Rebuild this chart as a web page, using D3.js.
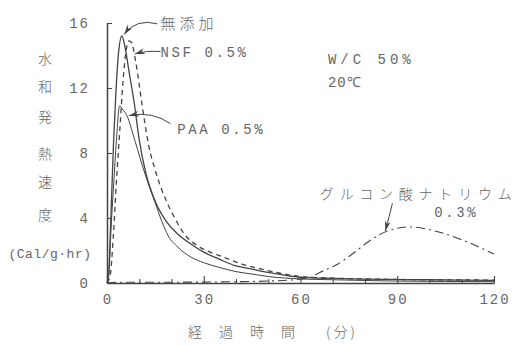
<!DOCTYPE html>
<html>
<head>
<meta charset="utf-8">
<script src="https://cdn.jsdelivr.net/npm/d3@7"></script>
<style>
  body { margin: 0; background: #fff; }
  svg { display: block; }
  text { fill: #666; }
  .num { font-family: "Liberation Mono", "DejaVu Sans Mono", monospace; font-size: 14px; letter-spacing: 2px; }
  .jp { font-family: "Noto Sans CJK JP", sans-serif; font-weight: 300; }
</style>
</head>
<body>
<svg id="chart" width="523" height="345"></svg>
<script>
// time (min) / heat rate (cal/g·hr)
const mutenka = [[0,0],[0.5,0.5],[1.2,4],[2,8.5],[2.7,11.5],[3.5,14],[4.6,15.2],[5.5,14.6],[7,12.8],[8.5,11],[10,8.8],[12,6.8],[15,5.0],[18,3.9],[22,3.0],[26,2.4],[30,1.9],[35,1.45],[40,1.05],[45,0.85],[50,0.65],[55,0.48],[60,0.35],[70,0.28],[80,0.24],[100,0.2],[120,0.16]]
const nsf = [[0,0],[1,0.5],[2,3],[3,6.5],[4,9.5],[5,12.5],[6,14.4],[6.8,14.9],[7.6,14.8],[9,13.5],[11,10.8],[13,8.4],[15,6.9],[18.5,5.0],[21,4.0],[24,3.0],[28,2.3],[32,1.9],[36,1.6],[42,1.15],[48,0.85],[55,0.55],[60,0.4],[70,0.3],[90,0.22],[120,0.18]]
const paa = [[0,0],[0.5,0.4],[1.3,3.5],[2.2,6.5],[3,9],[3.9,10.9],[4.8,10.7],[6.4,10.2],[8,9.2],[9.5,8.2],[11,7.2],[13,6.0],[15,4.9],[17,3.8],[19,2.9],[22,2.2],[26,1.6],[30,1.25],[35,0.95],[40,0.7],[45,0.55],[50,0.4],[60,0.25],[70,0.2],[90,0.12],[120,0.08]]
const gluconate = [[0,0],[5,0.05],[20,0.05],[40,0.08],[50,0.12],[58,0.2],[63,0.35],[66,0.65],[71.5,1.15],[76.5,1.85],[81.8,2.65],[87,3.2],[94,3.45],[102.6,3.15],[112,2.5],[120,1.78]]

const xTicks = [0, 30, 60, 90, 120]
const xMinor = [10, 20, 40, 50, 70, 80, 100, 110]
const yTicks = [0, 4, 8, 12, 16]
const yTitle = ["水", "和", "発", "熱", "速", "度"]
const xTitle = ["経", "過", "時", "間"]

const svg = d3.select("#chart")
const ink = "#444"

const x = d3.scaleLinear().domain([0, 120]).range([107, 494])
const y = d3.scaleLinear().domain([0, 16]).range([283, 23])

svg.append("defs").append("marker")
  .attr("id", "arrow")
  .attr("viewBox", "0 0 10 6")
  .attr("refX", 10).attr("refY", 3)
  .attr("markerWidth", 10).attr("markerHeight", 6)
  .attr("markerUnits", "userSpaceOnUse")
  .attr("orient", "auto")
  .append("path")
  .attr("d", "M0,0 L10,3 L0,6 L3,3 z")
  .attr("fill", ink)

/* axes */
svg.append("g")
  .attr("transform", "translate(0," + y(0) + ")")
  .call(d3.axisBottom(x).tickValues(xTicks).tickSize(-7).tickSizeOuter(0).tickFormat(""))
  .call(g => g.select(".domain").attr("stroke", ink).attr("stroke-width", 1.5))
  .call(g => g.selectAll(".tick line").attr("stroke", ink).attr("stroke-width", 1.1))

svg.append("g")
  .attr("transform", "translate(0," + y(0) + ")")
  .call(d3.axisBottom(x).tickValues(xMinor).tickSize(-4).tickFormat(""))
  .call(g => g.select(".domain").remove())
  .call(g => g.selectAll(".tick line").attr("stroke", ink).attr("stroke-width", 1))

svg.append("g")
  .attr("transform", "translate(" + x(0) + ",0)")
  .call(d3.axisRight(y).tickValues(yTicks).tickSize(5).tickSizeOuter(0).tickFormat(""))
  .call(g => g.select(".domain").attr("stroke", ink).attr("stroke-width", 1.5))
  .call(g => g.selectAll(".tick line").attr("stroke", ink).attr("stroke-width", 1.1))

svg.selectAll(".ylab").data(yTicks).enter().append("text")
  .attr("class", "num")
  .attr("x", 90).attr("y", d => y(d) + 5)
  .attr("text-anchor", "end")
  .text(d => d)

svg.selectAll(".xlab").data(xTicks).enter().append("text")
  .attr("class", "num")
  .attr("x", d => x(d) + 1).attr("y", 304)
  .attr("text-anchor", "middle")
  .text(d => d)

/* axis titles */
const yTitleY = [59, 87, 117, 154, 182, 215]
svg.selectAll(".ytitle").data(yTitle).enter().append("text")
  .attr("class", "jp")
  .attr("x", 45).attr("y", (d, i) => yTitleY[i] + 5)
  .attr("text-anchor", "middle")
  .style("font-size", "14px")
  .text(d => d)

svg.append("text")
  .attr("class", "num")
  .attr("x", 50).attr("y", 258)
  .attr("text-anchor", "middle")
  .style("font-size", "13px").style("letter-spacing", "0.5px")
  .text("(Cal/g·hr)")

svg.selectAll(".xtitle").data(xTitle).enter().append("text")
  .attr("class", "jp")
  .attr("x", (d, i) => 195 + i * 31).attr("y", 337)
  .attr("text-anchor", "middle")
  .style("font-size", "14px")
  .text(d => d)

svg.append("text")
  .attr("class", "jp")
  .attr("x", 342).attr("y", 337)
  .attr("text-anchor", "middle")
  .style("font-size", "14px").style("letter-spacing", "3px")
  .text("(分)")

/* curves */
const line = d3.line()
  .x(d => x(d[0]))
  .y(d => y(d[1]))
  .curve(d3.curveMonotoneX)

const series = [
  { data: gluconate, width: 1.1, dash: "9,4,2,4" },
  { data: paa, width: 1.0, dash: null },
  { data: nsf, width: 1.3, dash: "5,4" },
  { data: mutenka, width: 1.3, dash: null },
]

series.forEach(s => {
  svg.append("path")
    .datum(s.data)
    .attr("fill", "none")
    .attr("stroke", ink)
    .attr("stroke-width", s.width)
    .attr("stroke-dasharray", s.dash)
    .attr("d", line)
})

/* annotations */
const arrow = (t0, v0, tc, vc, t1, v1) => {
  svg.append("path")
    .attr("fill", "none")
    .attr("stroke", ink)
    .attr("stroke-width", 1)
    .attr("marker-end", "url(#arrow)")
    .attr("d", "M" + x(t0) + "," + y(v0) + " Q" + x(tc) + "," + y(vc) + " " + x(t1) + "," + y(v1))
}

svg.append("text").attr("class", "jp")
  .attr("x", x(16.6)).attr("y", y(16) + 6)
  .style("font-size", "15px").style("letter-spacing", "4px")
  .text("無添加")
arrow(15.6, 15.95, 9, 16.3, 5.3, 15.3)

svg.append("text").attr("class", "num")
  .attr("x", x(16.6)).attr("y", y(14.2) + 5)
  .style("letter-spacing", "2.6px")
  .text("NSF 0.5%")
arrow(16.6, 14.25, 12, 14.3, 8.6, 14.1)

svg.append("text").attr("class", "num")
  .attr("x", x(21.8)).attr("y", y(9.45) + 5)
  .style("letter-spacing", "2.6px")
  .text("PAA 0.5%")
arrow(19.7, 9.8, 14, 10.6, 6.8, 10.3)

svg.append("text").attr("class", "num")
  .attr("x", x(68.5)).attr("y", y(13.8) + 5)
  .style("letter-spacing", "4px")
  .text("W/C 50%")

svg.append("text").attr("class", "num")
  .attr("x", x(68.5)).attr("y", y(12.4) + 5)
  .style("letter-spacing", "1px")
  .text("20℃")

svg.append("text").attr("class", "jp")
  .attr("x", x(66)).attr("y", y(5.5) + 5)
  .style("font-size", "14px").style("letter-spacing", "5.8px")
  .text("グルコン酸ナトリウム")

svg.append("text").attr("class", "num")
  .attr("x", x(101.5)).attr("y", y(4.4) + 5)
  .style("letter-spacing", "2.6px")
  .text("0.3%")

arrow(88.5, 4.9, 87.5, 4.1, 86.3, 3.2)
</script>
</body>
</html>
